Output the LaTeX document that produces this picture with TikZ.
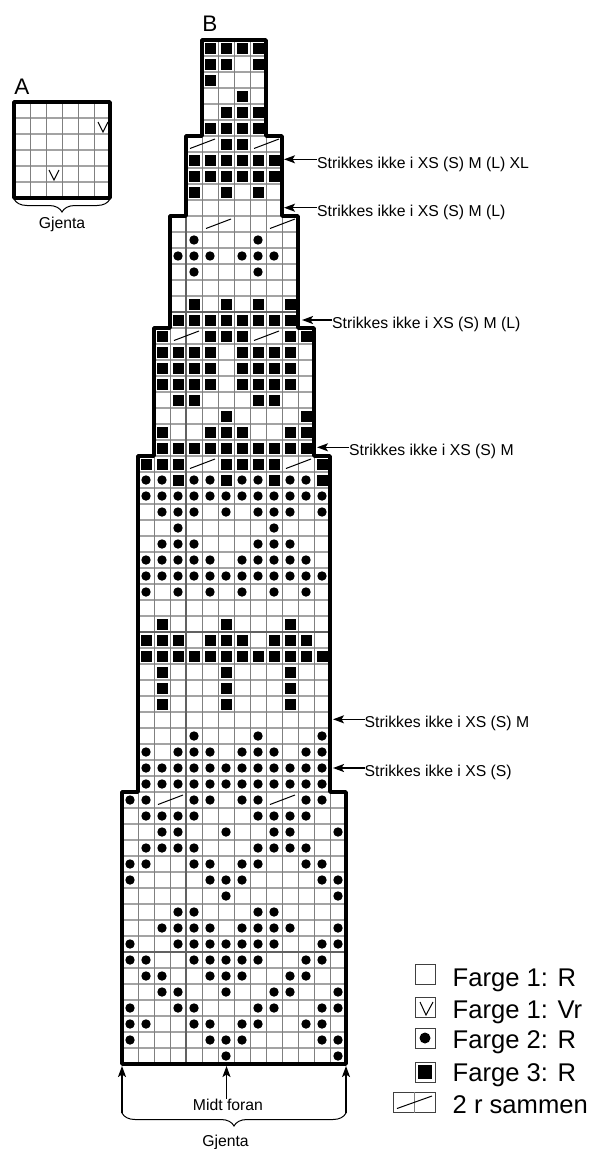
\documentclass[tikz,border=0pt]{standalone}
\usepackage{fontspec}
\setmainfont{Liberation Sans}
\usetikzlibrary{decorations.pathreplacing,arrows.meta,positioning}
\tikzset{
  gridline/.style={
    line width=0.9pt,
    black!50
  },
  gridrow/.style={
    line width=1.2pt,
    black!36
  },
  rule/.style={
    line width=1.3pt,
    black!62
  },
  outline/.style={
    line width=3.6pt,
    line join=round
  },
  sqcell/.style={
    fill=black,
    rectangle,
    inner sep=0pt,
    minimum size=11pt
  },
  dotcell/.style={
    fill=black,
    circle,
    inner sep=0pt,
    minimum size=9.4pt
  },
  diagline/.style={
    line width=1pt
  },
  vmark/.style={
    line width=1pt
  },
  arrow/.style={
    -{Stealth[length=11pt,width=8pt,inset=2.5pt]},
    line width=1.5pt
  },
  curly/.style={
    decorate,
    decoration={brace, amplitude=13pt, mirror},
    line width=1pt
  },
  note/.style={
    inner sep=0pt,
    anchor=base west,
    font=\fontsize{15.75}{18}\selectfont
  },
  small/.style={
    inner sep=0pt,
    font=\fontsize{15.75}{18}\selectfont
  },
  letter/.style={
    inner sep=0pt,
    font=\fontsize{22.5}{26}\selectfont
  },
  legbox/.style={
    draw=black!75,
    line width=0.9pt,
    rectangle,
    inner sep=0pt,
    minimum size=20pt
  },
  legend/.style={
    inner sep=0pt,
    font=\fontsize{25.6}{30}\selectfont
  }
}
% row, left edge of the block, columns
\newcommand{\sqrow}[3]{\foreach \c in {#3}{\node[sqcell] (s#1-\c) at ({#2+16*\c+8},{48+16*#1}) {};}}
\newcommand{\dotrow}[3]{\foreach \c in {#3}{\node[dotcell] (d#1-\c) at ({#2+16*\c+8},{48+16*#1}) {};}}
\newcommand{\diagcell}[3]{\draw[diagline] ({#2+16*#3+4},{40+16*#1+12.5}) -- ++(25,-9.5);}
\newcommand{\gridblock}[4]{%
  \foreach \j in {1,...,#4}{\draw[gridrow] (#1,{#3+16*\j}) -- ++({16*#2},0);}
  \foreach \i in {1,...,#2}{\draw[gridline] ({#1+16*\i},#3) -- ++(0,{16*#4});}
}

\begin{document}
\begin{tikzpicture}[x=1pt,y=-1pt]
\useasboundingbox (0,0) rectangle (592,1149);

% --- Diagram A ---
\gridblock{14}{6}{102}{6}
\draw[outline] (14,102) rectangle (110,198);
\draw[vmark] (98,122) -- (103,132) -- (108,122);
\draw[vmark] (49,170) -- (54,180) -- (59,170);
\node[letter] (labela) at (22,87) {A};
\draw[curly] (14,199) -- (110,199);
\node[small] (gjentaa) at (62,224.5) {Gjenta};

% --- Diagram B, grid ---
\gridblock{202}{4}{40}{6}
\gridblock{186}{6}{136}{5}
\gridblock{170}{8}{216}{7}
\gridblock{154}{10}{328}{8}
\gridblock{138}{12}{456}{21}
\gridblock{122}{14}{792}{17}
\draw[rule] (170,312) -- (298,312);
\draw[rule] (138,632) -- (330,632);
\draw[rule] (122,952) -- (346,952);
\draw[rule] (186,216) -- (186,1064);

% --- Block of 4 ---
\sqrow{0}{202}{0,1,2,3}
\sqrow{1}{202}{0,1,3}
\sqrow{2}{202}{0}
\sqrow{3}{202}{2}
\sqrow{4}{202}{1,2,3}
\sqrow{5}{202}{0,1,2,3}

% --- Block of 6 ---
\diagcell{6}{186}{0}
\sqrow{6}{186}{2,3}
\diagcell{6}{186}{4}
\sqrow{7}{186}{0,...,5}
\sqrow{8}{186}{0,...,5}
\sqrow{9}{186}{0,2,4}

% --- Block of 8 ---
\diagcell{11}{170}{2}
\diagcell{11}{170}{6}
\dotrow{12}{170}{1,5}
\dotrow{13}{170}{0,1,2,4,5,6}
\dotrow{14}{170}{1,5}
\sqrow{16}{170}{1,3,5,7}
\sqrow{17}{170}{0,...,7}

% --- Block of 10 ---
\sqrow{18}{154}{0,3,4,5,8,9}
\diagcell{18}{154}{1}
\diagcell{18}{154}{6}
\sqrow{19}{154}{0,1,2,3,5,6,7,8}
\sqrow{20}{154}{0,1,2,3,5,6,7,8}
\sqrow{21}{154}{0,1,2,3,5,6,7,8}
\sqrow{22}{154}{1,2,6,7}
\sqrow{23}{154}{4,9}
\sqrow{24}{154}{0,3,4,5,8,9}
\sqrow{25}{154}{0,...,9}

% --- Block of 12 ---
\sqrow{26}{138}{0,1,2,5,6,7,8,11}
\diagcell{26}{138}{3}
\diagcell{26}{138}{9}
\dotrow{27}{138}{0,1,3,4,6,7,9,10}
\sqrow{27}{138}{2,5,8,11}
\dotrow{28}{138}{0,...,11}
\dotrow{29}{138}{1,2,3,5,7,8,9,11}
\dotrow{30}{138}{2,8}
\dotrow{31}{138}{1,2,3,7,8,9}
\dotrow{32}{138}{0,1,2,3,4,6,7,8,9,10}
\dotrow{33}{138}{0,...,11}
\dotrow{34}{138}{0,2,4,6,8,10}
\sqrow{36}{138}{1,5,9}
\sqrow{37}{138}{0,1,2,4,5,6,8,9,10}
\sqrow{38}{138}{0,...,11}
\sqrow{39}{138}{1,5,9}
\sqrow{40}{138}{1,5,9}
\sqrow{41}{138}{1,5,9}
\dotrow{43}{138}{3,7,11}
\dotrow{44}{138}{0,2,3,4,6,7,8,10,11}
\dotrow{45}{138}{0,...,11}
\dotrow{46}{138}{0,...,11}

% --- Block of 14 ---
\dotrow{47}{122}{0,1,4,5,7,8,11,12}
\diagcell{47}{122}{2}
\diagcell{47}{122}{9}
\dotrow{48}{122}{1,2,3,4,8,9,10,11}
\dotrow{49}{122}{2,3,6,9,10,13}
\dotrow{50}{122}{1,2,3,4,8,9,10,11}
\dotrow{51}{122}{0,1,4,5,7,8,11,12}
\dotrow{52}{122}{0,5,6,7,12,13}
\dotrow{53}{122}{6,13}
\dotrow{54}{122}{3,4,8,9}
\dotrow{55}{122}{2,3,4,5,7,8,9,10,13}
\dotrow{56}{122}{0,3,4,5,6,7,8,9,12,13}
\dotrow{57}{122}{0,1,4,5,6,7,8,11,12}
\dotrow{58}{122}{1,2,5,6,7,10,11}
\dotrow{59}{122}{2,3,6,9,10,13}
\dotrow{60}{122}{0,3,4,8,9,12,13}
\dotrow{61}{122}{0,1,4,5,7,8,11,12}
\dotrow{62}{122}{0,5,6,7,12,13}
\dotrow{63}{122}{6,13}

% --- Outline ---
\draw[outline] (202,40) -- (266,40) -- (266,136) -- (282,136) -- (282,216)
  -- (298,216) -- (298,328) -- (314,328) -- (314,456) -- (330,456)
  -- (330,792) -- (346,792) -- (346,1064) -- (122,1064) -- (122,792)
  -- (138,792) -- (138,456) -- (154,456) -- (154,328) -- (170,328)
  -- (170,216) -- (186,216) -- (186,136) -- (202,136) -- cycle;
\node[letter] (labelb) at (210,24) {B};

% --- Notes on the right ---
\node[note] (notexl) at (317,168) {Strikkes ikke i XS (S) M (L) XL};
\node[note] (notel) at (317,216) {Strikkes ikke i XS (S) M (L)};
\node[note] (notem) at (332,328) {Strikkes ikke i XS (S) M (L)};
\node[note] (notes) at (349,455.7) {Strikkes ikke i XS (S) M};
\node[note] (notet) at (364.5,727.7) {Strikkes ikke i XS (S) M};
\node[note] (notexs) at (364.5,776.5) {Strikkes ikke i XS (S)};
\coordinate (tipxl) at (284,159.3);
\coordinate (tipl) at (284,207.7);
\coordinate (tipm) at (302,320);
\coordinate (tips) at (317,447.3);
\coordinate (tipt) at (333,719.3);
\coordinate (tipxs) at (333,768);
\draw[arrow] (notexl.west |- tipxl) -- (tipxl);
\draw[arrow] (notel.west |- tipl) -- (tipl);
\draw[arrow] (notem.west |- tipm) -- (tipm);
\draw[arrow] (notes.west |- tips) -- (tips);
\draw[arrow] (notet.west |- tipt) -- (tipt);
\draw[arrow] (notexs.west |- tipxs) -- (tipxs);

% --- Below the chart ---
\coordinate (footl) at (122,1113);
\coordinate (footr) at (346,1113);
\coordinate (tipfl) at (122,1066);
\coordinate (tipfr) at (346,1066);
\coordinate (tipfm) at (226.5,1066);
\node[small] (midt) at (228,1105) {Midt foran};
\draw[arrow] (footl) -- (tipfl);
\draw[arrow] (footr) -- (tipfr);
\draw[arrow] (tipfm |- midt.north) -- (tipfm);
\draw[curly] (footl) -- (footr);
\node[small] (gjentab) at (225.5,1142) {Gjenta};

% --- Legend ---
\node[legbox] (legr) at (425,974.5) {};
\node[legbox] (legv) at (425,1007) {};
\node[legbox] (legd) at (425,1038) {};
\node[legbox] (legs) at (425,1072) {};
\node[legbox, minimum width=42pt] (legt) at (414,1102.5) {};
\draw[gridline] (legt.north) -- (legt.south);
\draw[vmark] (420,1002) -- (426,1015) -- (433,1002);
\node[dotcell, minimum size=11pt] (legdot) at (legd) {};
\node[sqcell, minimum size=14pt] (legsq) at (legs) {};
\draw[diagline] (397,1108.5) -- (432,1096);
\node[legend, anchor=base west] (textr) at (452.5,986) {Farge 1: R};
\node[legend, anchor=base west] (textv) at (452.5,1018) {Farge 1: Vr};
\node[legend, anchor=base west] (textd) at (452.5,1048.5) {Farge 2: R};
\node[legend, anchor=base west] (texts) at (452.5,1081.5) {Farge 3: R};
\node[legend, anchor=base west] (textt) at (452.5,1113) {2 r sammen};

\end{tikzpicture}
\end{document}
